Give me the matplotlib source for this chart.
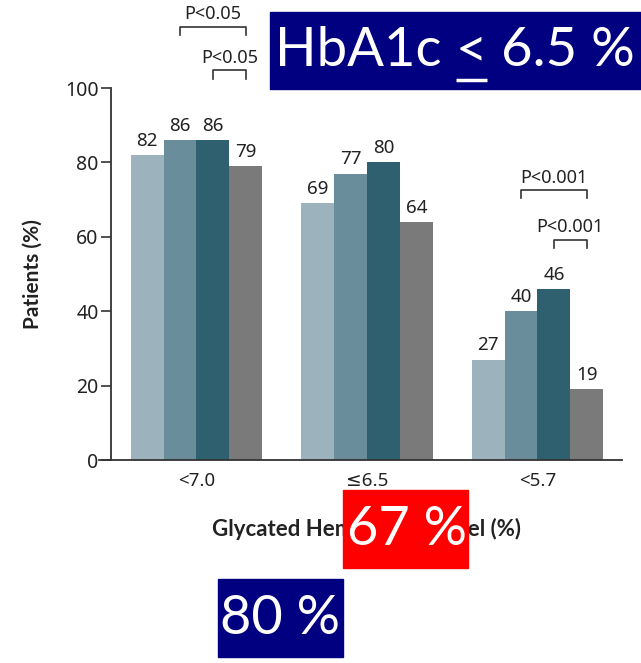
import matplotlib
matplotlib.use("Agg")
import matplotlib.pyplot as plt
from matplotlib.patches import Rectangle
import numpy as np

# Proportion of patients reaching each HbA1c target, by treatment arm
categories = ["<7.0", "≤6.5", "<5.7"]
series_values = [
    [82, 69, 27],
    [86, 77, 40],
    [86, 80, 46],
    [79, 64, 19],
]
colors = ["#9cb3bd", "#6a8d9b", "#2e6070", "#7a7a7a"]
y_ticks = [0, 20, 40, 60, 80, 100]

# Significance brackets: (group, first bar, last bar, bracket height, label)
brackets = [
    (0, 1, 3, 116.5, "P<0.05"),
    (0, 2, 3, 104.8, "P<0.05"),
    (2, 1, 3, 72.6, "P<0.001"),
    (2, 2, 3, 59.2, "P<0.001"),
]

W, H = 641, 663
plt.rcParams["font.family"] = ["Noto Sans", "DejaVu Sans"]
fig = plt.figure(figsize=(W / 100, H / 100), dpi=100)
txt = "#222222"
label_font = ["Lato", "DejaVu Sans"]


def px(x0, y0, x1, y1):
    return [x0 / W, 1 - y1 / H, (x1 - x0) / W, (y1 - y0) / H]


ax = fig.add_axes(px(111, 88, 622, 460))
x = np.arange(len(categories))
bw = 0.193
offsets = (np.arange(4) - 1.5) * bw

for i, vals in enumerate(series_values):
    ax.bar(x + offsets[i], vals, width=bw, color=colors[i], linewidth=0)
    for xi, v in zip(x + offsets[i], vals):
        ax.text(xi, v + 1.4, f"{v}", ha="center", va="bottom", fontsize=13.5, color=txt)

ax.set_xlim(-0.501, 2.496)
ax.set_ylim(0, 100)
ax.set_yticks(y_ticks)
ax.set_xticks(x)
ax.set_xticklabels(categories, fontsize=13.5, color=txt)
ax.tick_params(axis="x", length=0, pad=9)
ax.tick_params(axis="y", length=7, width=1.2, labelsize=14, colors="#333333", labelcolor=txt, pad=2)
for s in ["top", "right"]:
    ax.spines[s].set_visible(False)
for s in ["left", "bottom"]:
    ax.spines[s].set_linewidth(1.3)
    ax.spines[s].set_color("#333333")
ax.plot([-0.57, -0.501], [0, 0], color="#333333", lw=1.3, clip_on=False)

ax.set_ylabel("Patients (%)", fontsize=15, fontweight="bold", color=txt, family=label_font)
ax.yaxis.set_label_coords(-(111 - 43) / 511, 0.5)
ax.set_xlabel("Glycated Hemoglobin Level (%)", fontsize=16, fontweight="bold", color=txt,
              family=label_font, labelpad=20)

for g, b0, b1, h, lab in brackets:
    xa, xb = g + offsets[b0], g + offsets[b1]
    ax.plot([xa, xa, xb, xb], [h - 2.3, h, h, h - 2.3], color="#333333", lw=1.2, clip_on=False)
    ax.text((xa + xb) / 2, h + 0.9, lab, ha="center", va="bottom", fontsize=13, color=txt, clip_on=False)

# Highlight boxes
box_font = ["Lato", "DejaVu Sans"]


def add_box(x0, y0, x1, y1, color):
    r = px(x0, y0, x1, y1)
    fig.add_artist(Rectangle(r[:2], r[2], r[3], transform=fig.transFigure, color=color, zorder=10))


add_box(270, 12, 641, 89, "#000080")
add_box(343, 490, 468, 568, "#ff0000")
add_box(218, 579, 343, 657, "#000080")

fig.canvas.draw()
renderer = fig.canvas.get_renderer()


def fit_size(s, target_px, base=40):
    t = fig.text(0, 0, s, fontsize=base, family=box_font)
    w = t.get_window_extent(renderer).width
    t.remove()
    return base * target_px / w


fs_small = fit_size("67 %", 120)
fig.text(407 / W, 1 - 529.5 / H, "67 %", ha="center", va="center", fontsize=fs_small, color="white",
         family=box_font, zorder=11)
fig.text(280 / W, 1 - 618.5 / H, "80 %", ha="center", va="center", fontsize=fs_small, color="white",
         family=box_font, zorder=11)

# Title box text laid out in pieces so the "<" can be underlined
parts = ["HbA1c ", "<", " 6.5 %"]
fs = fit_size("".join(parts), 360)
ymid = 1 - 51 / H
xs = 275 / W
ext = None
for k, p in enumerate(parts):
    t = fig.text(xs, ymid, p, ha="left", va="center", fontsize=fs, color="white", family=box_font, zorder=11)
    bb = t.get_window_extent(renderer)
    if k == 1:
        ext = bb
    xs = bb.x1 / W
ul_y = 1 - 80 / H
fig.add_artist(plt.Line2D([ext.x0 / W, ext.x1 / W], [ul_y, ul_y], transform=fig.transFigure,
                          color="white", lw=2.5, solid_capstyle="butt", zorder=11))

fig.savefig("out.png", dpi=100)
